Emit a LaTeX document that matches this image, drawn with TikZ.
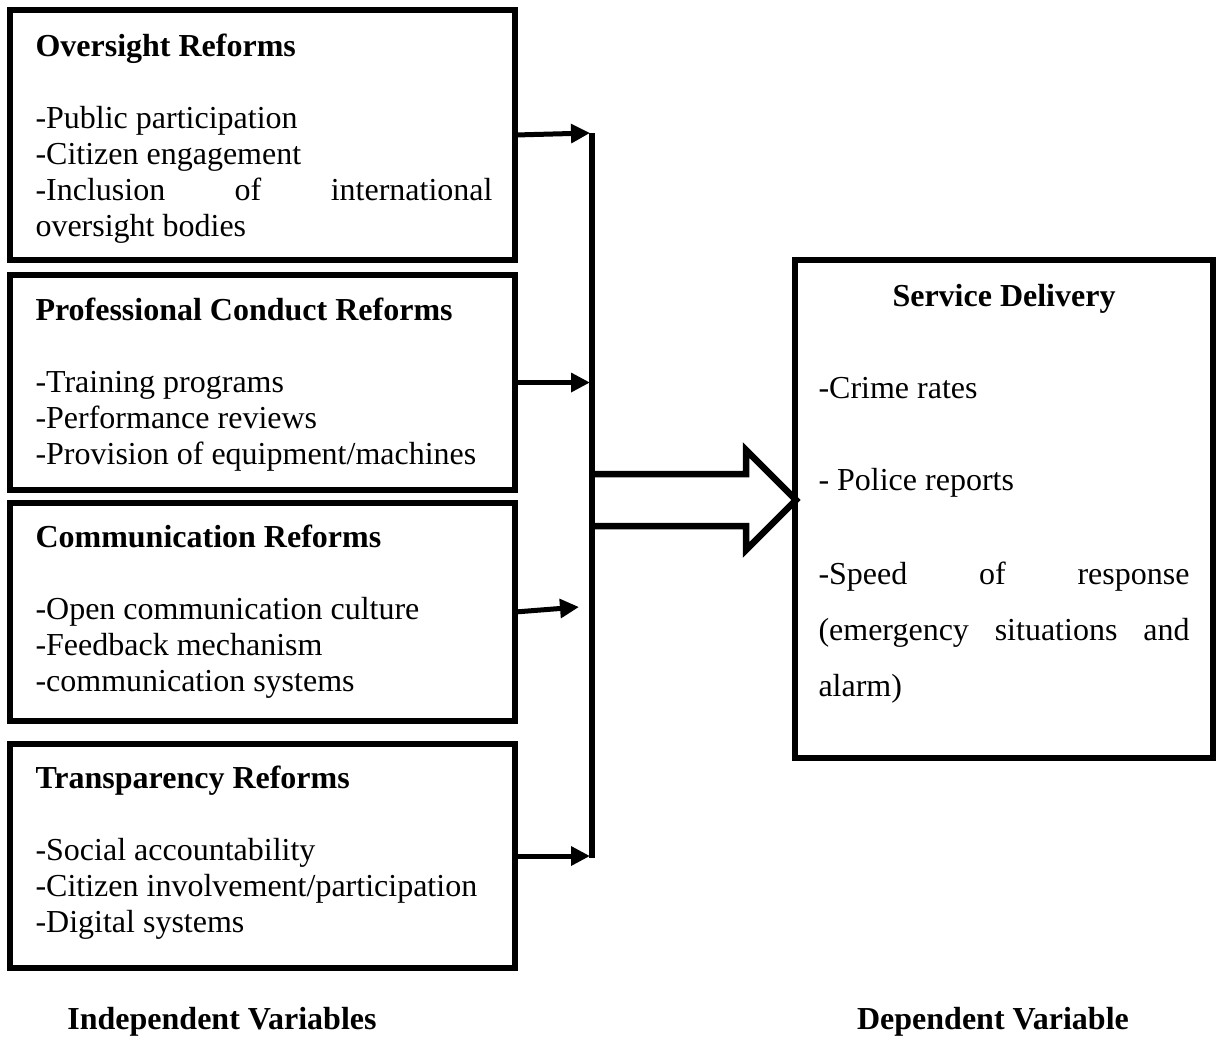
\documentclass[tikz,border=0pt]{standalone}
\usepackage{fontspec}
\setmainfont{Liberation Serif}
\usetikzlibrary{arrows.meta}
\begin{document}
\begin{tikzpicture}[x=0.4pt,y=-0.4pt,
  box/.style={draw,line width=2.6pt,inner sep=0,outer sep=0,anchor=north west,minimum width=202pt},
  txt/.style={anchor=base west,inner sep=0,text width=182.8pt,align=justify,
    font=\fontsize{12.8pt}{14.4pt}\selectfont},
  rtxt/.style={anchor=base west,inner sep=0,text width=148.4pt,align=justify,
    font=\fontsize{12.8pt}{22.4pt}\selectfont},
  lbl/.style={anchor=base,inner sep=0,font=\fontsize{12.8pt}{14.4pt}\selectfont\bfseries},
  conn/.style={line width=2pt,-{Triangle[length=7.6pt,width=7.4pt]}},
  bus/.style={line width=2.6pt},
  bigarrow/.style={line width=2.6pt,line join=miter}
]
\useasboundingbox (0,0) rectangle (1222,1036);

% left boxes
\node[box,minimum height=100pt] (b1) at (10,10) {};
\node[box,minimum height=86pt] (b2) at (10,275) {};
\node[box,minimum height=87.2pt] (b3) at (10,503) {};
\node[box,minimum height=89.6pt] (b4) at (10,744) {};

\node[txt] (t1) at (35,56) {\textbf{Oversight Reforms}\par\vspace{14.4pt}
-Public participation\par
-Citizen engagement\par
-Inclusion of international\linebreak oversight bodies};

\node[txt] (t2) at (35,320) {\textbf{Professional Conduct Reforms}\par\vspace{14.4pt}
-Training programs\par
-Performance reviews\par
-Provision of equipment/machines};

\node[txt] (t3) at (35,547) {\textbf{Communication Reforms}\par\vspace{14.4pt}
-Open communication culture\par
-Feedback mechanism\par
-communication systems};

\node[txt] (t4) at (35,788) {\textbf{Transparency Reforms}\par\vspace{14.4pt}
-Social accountability\par
-Citizen involvement/participation\par
-Digital systems};

% right box
\node[box,minimum width=167.2pt,minimum height=199.2pt] (rb) at (795,260) {};
\node[lbl] (rt) at (1004,306) {Service Delivery};
\node[rtxt] (r1) at (818,398) {-Crime rates};
\node[rtxt] (r2) at (818,490) {- Police reports};
\node[rtxt] (r3) at (818,584) {-Speed of response\linebreak (emergency situations and\linebreak alarm)};

% bus line
\coordinate (vt) at (592,133);
\coordinate (vb) at (592,858);
\draw[bus] (vt) -- (vb);

% connectors
\draw[conn] (b1.east) -- (590,133);
\draw[conn] (b2.east) -- ++(75,0);
\draw[conn] (b3.east) -- (579,607);
\draw[conn] (b4.east) -- ++(75,0);

% big arrow
\coordinate (tip) at (796,500);
\draw[bigarrow] (592,474) -- (746,474) -- (746,450) -- (tip) -- (746,550) -- (746,526) -- (592,526);

% bottom labels
\node[lbl] (iv) at (222,1029) {Independent Variables};
\node[lbl] (dv) at (993,1029) {Dependent Variable};
\end{tikzpicture}
\end{document}
